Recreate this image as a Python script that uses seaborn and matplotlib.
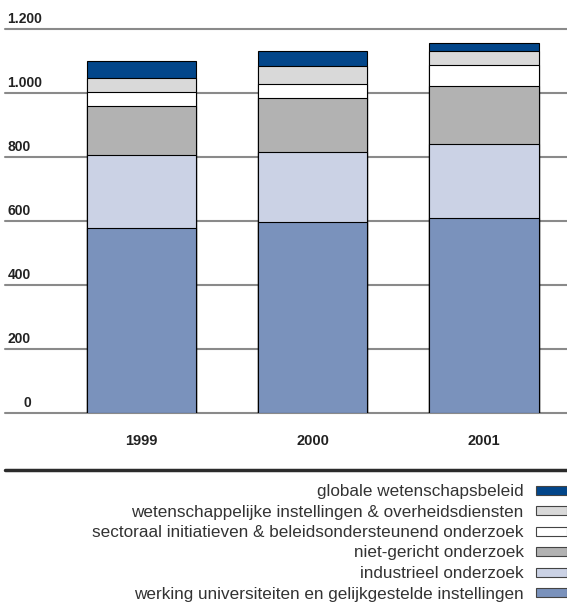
import numpy as np
import seaborn as sns
import matplotlib.pyplot as plt
import matplotlib.transforms as mtransforms
from matplotlib.patches import Rectangle
from matplotlib.lines import Line2D

# data, bottom layer first
years = ['1999', '2000', '2001']
werking = [580, 597, 610]
industrieel = [227, 218, 230]
niet_gericht = [154, 168, 181]
sectoraal = [42, 45, 67]
wetenschappelijk = [45, 58, 44]
globaal = [52, 45, 23]

labels = ['werking universiteiten en gelijkgestelde instellingen',
          'industrieel onderzoek',
          'niet-gericht onderzoek',
          'sectoraal initiatieven & beleidsondersteunend onderzoek',
          'wetenschappelijke instellingen & overheidsdiensten',
          'globale wetenschapsbeleid']
colors = ['#7a92bc', '#cbd2e5', '#b2b2b2', '#ffffff', '#d9d9d9', '#02468a']
yticks = [0, 200, 400, 600, 800, 1000, 1200]
ytick_labels = ['0', '200', '400', '600', '800', '1.000', '1.200']

sns.set_style('white')
plt.rcParams['font.family'] = ['Liberation Sans', 'DejaVu Sans']

W, H = 567, 608
fig = plt.figure(figsize=(W / 100, H / 100), dpi=100)
ax = fig.add_axes([5 / W, (H - 413.3) / H, 562 / W, (413.3 - 29) / H])

# stacked bars: draw cumulative totals from the top layer down
series = [werking, industrieel, niet_gericht, sectoraal, wetenschappelijk, globaal]
cum = np.cumsum(series, axis=0)
for i in reversed(range(len(series))):
    sns.barplot(x=years, y=cum[i], color=colors[i], saturation=1, width=0.64,
                edgecolor='black', linewidth=0.8, errorbar=None, ax=ax, zorder=3)

ax.set_xlim(-0.796, 2.4846)
ax.set_ylim(0, 1200)
for s in ax.spines.values():
    s.set_visible(False)

# grid lines with labels sitting on top
lab_trans = mtransforms.offset_copy(ax.get_yaxis_transform(), fig=fig, y=6, units='dots')
for v, lab in zip(yticks, ytick_labels):
    ax.axhline(v, color='#8a8a8a', lw=1.5, zorder=1, clip_on=False)
    xr = (42 if v >= 1000 else 31) - 5
    ax.text(xr / 562, v, lab, transform=lab_trans, ha='right', va='baseline',
            fontsize=10, fontweight='bold', color='#222222')

ax.set_yticks([])
ax.set_xticks(range(len(years)))
ax.set_xticklabels(years, fontsize=10.5, fontweight='bold', color='#222222')
ax.tick_params(axis='x', length=0, pad=15)
ax.set_xlabel('')
ax.set_ylabel('')

# separator line
fig.add_artist(Line2D([5 / W, 1], [1 - 470 / H] * 2, color='#2b2b2b', lw=2.5))

# legend, right aligned text with swatches on the right
rows = [490, 510.5, 531, 551.5, 572, 592.5]
for yc, lab, col in zip(rows, labels[::-1], colors[::-1]):
    fig.add_artist(Rectangle((535.7 / W, 1 - (yc + 4.5) / H), 31 / W, 9 / H,
                             transform=fig.transFigure, facecolor=col,
                             edgecolor='#444444', lw=0.8))
    fig.text(523.7 / W, 1 - yc / H, lab, ha='right', va='center_baseline',
             fontsize=12.3, color='#333333')

fig.savefig('out.png', dpi=100)
